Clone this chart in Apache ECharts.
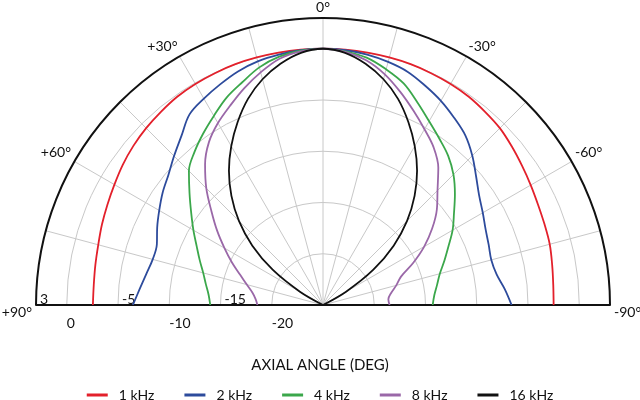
<!DOCTYPE html>
<html><head><meta charset="utf-8">
<script src="https://cdn.jsdelivr.net/npm/echarts@6/dist/echarts.min.js"></script>
<style>html,body{margin:0;padding:0;background:#fff}#c{width:640px;height:400px}</style>
</head><body><div id="c"></div><script>
// axial angles, left (+) to right (-)
const angles = [90,85,80,75,70,65,60,55,50,45,40,35,30,25,20,15,10,5,0,-5,-10,-15,-20,-25,-30,-35,-40,-45,-50,-55,-60,-65,-70,-75,-80,-85,-90];
const seriesNames = ['1 kHz','2 kHz','4 kHz','8 kHz','16 kHz'];
const seriesColors = ['#e3202b','#2d4b9c','#3ba74b','#9a68a8','#111111'];
const db1k  = [-2.55,-2.55,-2.45,-2.3,-2.05,-1.8,-1.5,-1.15,-0.85,-0.6,-0.4,-0.2,-0.1,-0.05,0,0,0,0,0,0,0,0,0,-0.05,-0.1,-0.2,-0.4,-0.6,-0.95,-1.3,-1.6,-1.85,-2.0,-2.1,-2.3,-2.45,-2.5];
const db2k  = [-6.45,-7.05,-7.5,-7.8,-7.75,-7.15,-6.55,-5.9,-5.3,-4.45,-3.5,-2.3,-1.75,-1.25,-0.75,-0.4,-0.2,-0.05,0,-0.05,-0.2,-0.45,-0.8,-1.4,-2.0,-2.7,-3.4,-4.4,-5.5,-6.4,-7.0,-7.5,-7.8,-8.0,-7.8,-7.2,-6.6];
const db4k  = [-14.0,-13.8,-13.4,-12.9,-12.2,-11.4,-10.4,-9.3,-8.0,-6.5,-5.5,-4.6,-3.7,-2.7,-1.9,-1.0,-0.4,-0.1,0,-0.15,-0.5,-1.2,-2.0,-3.2,-4.3,-5.2,-6.0,-7.0,-8.2,-9.4,-10.4,-11.5,-12.4,-13.2,-13.7,-14.1,-14.3];
const db8k  = [-18.6,-18.4,-18.0,-17.3,-16.4,-15.2,-13.9,-12.4,-10.8,-8.9,-7.1,-5.6,-4.5,-3.55,-2.5,-1.5,-0.6,-0.15,0,-0.2,-0.75,-1.7,-2.9,-4.1,-5.2,-6.2,-7.5,-9.2,-10.5,-12.0,-13.6,-15.3,-16.9,-17.6,-18.25,-18.6,-18.5];
const db16k = [null,null,null,null,null,-25,-22.4,-19.0,-16.0,-13.4,-11.1,-9.0,-7.1,-5.3,-3.6,-2.2,-1.1,-0.3,0,-0.3,-1.1,-2.2,-3.6,-5.3,-7.1,-9.0,-11.1,-13.4,-16.0,-19.0,-22.4,-25,null,null,null,null,null];
const angleTickLabels = [90,60,30,0,-30,-60,-90];
const radiusLabelsUpper = [3,-5,-15];
const radiusLabelsLower = [0,-10,-20];

const FONT = 'Lato';
const GRID = '#c8c8c8';
const allDb = [db1k, db2k, db4k, db8k, db16k];

const chart = echarts.init(document.getElementById('c'), null, {renderer:'canvas'});
const angleSplitColors = ['rgba(0,0,0,0)'].concat(Array(11).fill(GRID));
const radiusSplitColors = Array(6).fill(GRID).concat(['rgba(0,0,0,0)']);

chart.setOption({
  animation: false,
  backgroundColor: '#fff',
  textStyle: {fontFamily: FONT},
  title: {text: 'AXIAL ANGLE (DEG)', left: 'center', top: 353,
    textStyle: {fontFamily: FONT, fontSize: 15, fontWeight: 'normal', color: '#111'}},
  legend: {left: 'center', top: 383, icon: 'rect', itemWidth: 21, itemHeight: 3, itemGap: 30,
    data: seriesNames,
    textStyle: {fontFamily: FONT, fontSize: 14, color: '#111', padding: [0,0,0,6]}},
  polar: [{center: [323, 305], radius: [0, 287]}, {center: [323, 305], radius: [0, 287]}],
  angleAxis: [{
    polarIndex: 0, type: 'value', min: -90, max: 90, interval: 15,
    startAngle: 180, endAngle: 0, clockwise: true,
    axisLine: {lineStyle: {color: '#111', width: 2}},
    axisTick: {show: false},
    axisLabel: {margin: 4, fontFamily: FONT, fontSize: 14, color: '#111', showMinLabel: true, showMaxLabel: true,
      formatter: function (v) {
        const a = -v;
        if (!angleTickLabels.includes(a)) return '';
        const t = (a > 0 ? '+' : '') + a + '°';
        return Math.abs(a) === 90 ? '{e|' + t + '}' : t;
      },
      rich: {e: {fontFamily: FONT, fontSize: 14, color: '#111', padding: [14, 0, 0, 0]}}
    },
    splitLine: {show: true, lineStyle: {color: angleSplitColors, width: 1}}
  }, {
    polarIndex: 1, type: 'value', min: -90, max: 90, interval: 15,
    startAngle: 0, endAngle: 180, clockwise: false,
    axisLine: {show: false}, axisTick: {show: false}, axisLabel: {show: false}, splitLine: {show: false}
  }],
  radiusAxis: [{
    polarIndex: 0, type: 'value', min: -25, max: 3, interval: 5,
    axisLine: {lineStyle: {color: '#111', width: 2}},
    axisTick: {show: false},
    axisLabel: {margin: 0, align: 'left', verticalAlign: 'middle', showMaxLabel: true, showMinLabel: true,
      fontFamily: FONT, fontSize: 14, color: '#111',
      formatter: function (v) {
        if (radiusLabelsUpper.includes(v)) return '{u|' + v + '}';
        if (radiusLabelsLower.includes(v)) return '{d|' + v + '}';
        return '';
      },
      rich: {
        u: {fontFamily: FONT, fontSize: 14, color: '#111', padding: [0, 0, 12, 4]},
        d: {fontFamily: FONT, fontSize: 14, color: '#111', padding: [36, 0, 0, 0]}
      }
    },
    splitLine: {show: true, lineStyle: {color: radiusSplitColors, width: 1}}
  }, {
    polarIndex: 1, type: 'value', min: -25, max: 3, interval: 5,
    axisLine: {lineStyle: {color: '#111', width: 2}},
    axisTick: {show: false}, axisLabel: {show: false}, splitLine: {show: false}
  }],
  series: allDb.map(function (vals, k) {
    return {
      name: seriesNames[k], type: 'line', coordinateSystem: 'polar', polarIndex: 0,
      smooth: 0.35, symbol: 'none', z: 5,
      color: seriesColors[k],
      lineStyle: {color: seriesColors[k], width: 1.8},
      data: vals.map(function (v, i) { return [v, -angles[i]]; }).filter(function (p) { return p[0] !== null; })
    };
  })
});
</script></body></html>
